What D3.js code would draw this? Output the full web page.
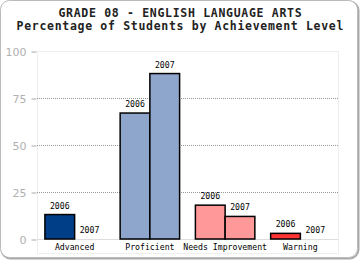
<!DOCTYPE html>
<html>
<head>
<meta charset="utf-8">
<script src="https://cdn.jsdelivr.net/npm/d3@7"></script>
<style>
  body { margin: 0; background: #fff; }
  svg { display: block; }
</style>
</head>
<body>
<svg></svg>
<script>
var categories = ["Advanced", "Proficient", "Needs Improvement", "Warning"];
var years = ["2006", "2007"];
var values2006 = [13, 67, 18, 3];
var values2007 = [0, 88, 12, 0];
var ticks = [0, 25, 50, 75, 100];
var fills = ["#003f87", "#8fa6cc", "#ff9999", "#ff3333"];

var width = 360, height = 260;
var margin = { top: 51, right: 22, bottom: 21, left: 37 };

var svg = d3.select('svg').attr('width', width).attr('height', height);

// outer frame with a soft shadow on right/bottom
svg.append('rect')
  .attr('x', 1.5).attr('y', 1.5).attr('width', width - 3).attr('height', height - 3)
  .attr('rx', 9).attr('fill', 'none').attr('stroke', '#aaa').attr('stroke-width', 2)
svg.append('rect')
  .attr('x', 0.5).attr('y', 0.5).attr('width', width - 3).attr('height', height - 3)
  .attr('rx', 9).attr('fill', '#fff').attr('stroke', '#bbb').attr('stroke-width', 1)

var titles = ['GRADE 08 - ENGLISH LANGUAGE ARTS', 'Percentage of Students by Achievement Level']
svg.append('g').selectAll('text')
  .data(titles)
  .enter().append('text')
  .attr('x', width / 2).attr('y', function (d, i) { return 17 + i * 13 })
  .attr('text-anchor', 'middle')
  .attr('font-family', 'DejaVu Sans Mono, monospace').attr('font-weight', 'bold')
  .attr('font-size', 11.5).attr('fill', '#222')
  .attr('textLength', function (d) { return d.length * 7.6 })
  .attr('lengthAdjust', 'spacing')
  .text(function (d) { return d })

var x = d3.scaleBand()
  .domain(categories)
  .range([margin.left, width - margin.right])
  .paddingInner(0.21).paddingOuter(0.105)
var xYear = d3.scaleBand().domain(years).range([0, x.bandwidth()])
var y = d3.scaleLinear().domain([0, 100]).range([height - margin.bottom, margin.top])

var plotRight = width - margin.right
// plot area border
svg.append('rect')
  .attr('x', margin.left + 0.5).attr('y', margin.top + 0.5)
  .attr('width', plotRight - margin.left).attr('height', y(0) - margin.top + 14)
  .attr('fill', '#fff').attr('stroke', '#eee')

// gridlines
svg.append('g').selectAll('line')
  .data(ticks.filter(function (t) { return t > 0 && t < 100 }))
  .enter().append('line')
  .attr('x1', margin.left).attr('x2', plotRight)
  .attr('y1', function (t) { return Math.round(y(t)) + 0.5 })
  .attr('y2', function (t) { return Math.round(y(t)) + 0.5 })
  .attr('stroke', '#999').attr('stroke-dasharray', '1,1')

svg.append('line')
  .attr('x1', margin.left).attr('x2', plotRight)
  .attr('y1', Math.round(y(0)) + 0.5).attr('y2', Math.round(y(0)) + 0.5)
  .attr('stroke', '#ddd')

// y axis
var yAxis = svg.append('g')
  .attr('transform', 'translate(' + (margin.left - 0.5) + ',0.5)')
  .call(d3.axisLeft(y).tickValues(ticks).tickSize(5).tickPadding(5))
yAxis.select('.domain').remove()
yAxis.selectAll('line').attr('stroke', '#aaa')
yAxis.selectAll('text')
  .attr('font-family', 'DejaVu Sans').attr('font-size', 11).attr('fill', '#b0b0b0')

var rows = []
categories.forEach(function (c, i) {
  rows.push({ cat: c, year: '2006', value: values2006[i], color: fills[i] })
  rows.push({ cat: c, year: '2007', value: values2007[i], color: fills[i] })
})

svg.append('g').selectAll('rect')
  .data(rows.filter(function (d) { return d.value > 0 }))
  .enter().append('rect')
  .attr('x', function (d) { return x(d.cat) + xYear(d.year) })
  .attr('y', function (d) { return y(d.value) })
  .attr('width', xYear.bandwidth())
  .attr('height', function (d) { return y(0) - y(d.value) })
  .attr('fill', function (d) { return d.color })
  .attr('stroke', '#000').attr('stroke-width', 1.5)

svg.append('g').selectAll('text')
  .data(rows)
  .enter().append('text')
  .attr('x', function (d) { return x(d.cat) + xYear(d.year) + xYear.bandwidth() / 2 })
  .attr('y', function (d) { return y(d.value) - 6 })
  .attr('text-anchor', 'middle')
  .attr('font-family', 'DejaVu Sans Mono').attr('font-size', 8.2).attr('fill', '#000')
  .text(function (d) { return d.year })

svg.append('g').selectAll('text')
  .data(categories)
  .enter().append('text')
  .attr('x', function (d) { return x(d) + x.bandwidth() / 2 })
  .attr('y', y(0) + 11)
  .attr('text-anchor', 'middle')
  .attr('font-family', 'DejaVu Sans Mono').attr('font-size', 8.2).attr('fill', '#000')
  .text(function (d) { return d })
</script>
</body>
</html>
